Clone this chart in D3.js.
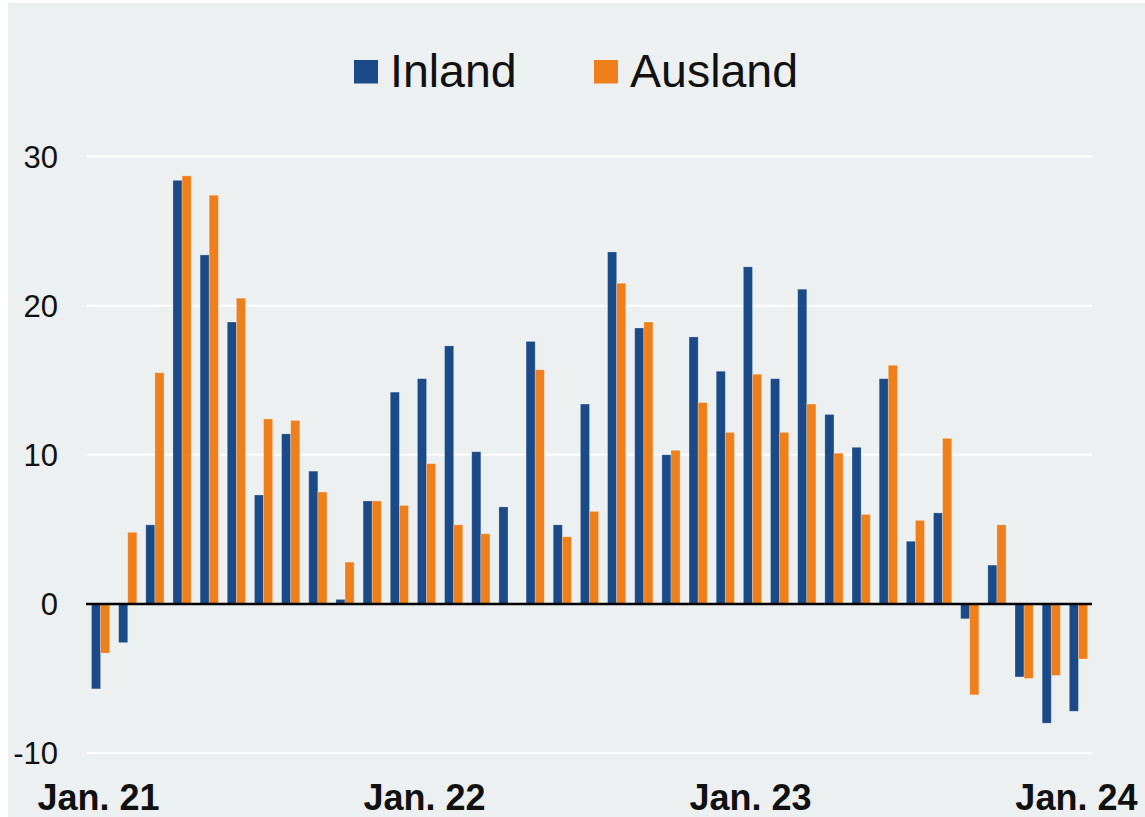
<!DOCTYPE html>
<html>
<head>
<meta charset="utf-8">
<script src="https://cdn.jsdelivr.net/npm/d3@7"></script>
<style>
  html, body { margin: 0; padding: 0; background: #fff; }
  svg { display: block; font-family: "Liberation Sans", Arial, sans-serif; }
</style>
</head>
<body>
<svg id="chart" width="1145" height="817"></svg>
<script>
// Monthly values, Jan 2021 .. Jan 2024
var months = [
  'Jan. 21', 'Feb. 21', 'Mrz. 21', 'Apr. 21', 'Mai 21', 'Jun. 21', 'Jul. 21', 'Aug. 21', 'Sep. 21', 'Okt. 21', 'Nov. 21', 'Dez. 21',
  'Jan. 22', 'Feb. 22', 'Mrz. 22', 'Apr. 22', 'Mai 22', 'Jun. 22', 'Jul. 22', 'Aug. 22', 'Sep. 22', 'Okt. 22', 'Nov. 22', 'Dez. 22',
  'Jan. 23', 'Feb. 23', 'Mrz. 23', 'Apr. 23', 'Mai 23', 'Jun. 23', 'Jul. 23', 'Aug. 23', 'Sep. 23', 'Okt. 23', 'Nov. 23', 'Dez. 23',
  'Jan. 24'
];

var inland = [
  -5.7, -2.6, 5.3, 28.4, 23.4, 18.9, 7.3, 11.4, 8.9, 0.3, 6.9, 14.2,
  15.1, 17.3, 10.2, 6.5, 17.6, 5.3, 13.4, 23.6, 18.5, 10.0, 17.9, 15.6,
  22.6, 15.1, 21.1, 12.7, 10.5, 15.1, 4.2, 6.1, -1.0, 2.6, -4.9, -8.0,
  -7.2
];

var ausland = [
  -3.3, 4.8, 15.5, 28.7, 27.4, 20.5, 12.4, 12.3, 7.5, 2.8, 6.9, 6.6,
  9.4, 5.3, 4.7, 0, 15.7, 4.5, 6.2, 21.5, 18.9, 10.3, 13.5, 11.5,
  15.4, 11.5, 13.4, 10.1, 6.0, 16.0, 5.6, 11.1, -6.1, 5.3, -5.0, -4.8,
  -3.7
];

var seriesNames = ['Inland', 'Ausland'];
var seriesColors = ['#1a4a87', '#ef7f1a'];
var yTicks = [-10, 0, 10, 20, 30];
var xLabels = ['Jan. 21', 'Jan. 22', 'Jan. 23', 'Jan. 24'];

var svg = d3.select('#chart');

svg.append('rect')
  .attr('x', 8).attr('y', 3)
  .attr('width', 1137).attr('height', 814)
  .attr('fill', '#ecf0f1');

var left = 87, right = 1092;

var x = d3.scaleBand()
  .domain(months)
  .range([left, right])
  .paddingInner(0.33)
  .paddingOuter(0.165);

var xSub = d3.scaleBand()
  .domain(seriesNames)
  .range([0, x.bandwidth()]);

var y = d3.scaleLinear()
  .domain([-10, 30])
  .range([753, 156.5]);

// gridlines + y labels
var yAxis = svg.append('g');
yAxis.selectAll('line.grid')
  .data(yTicks.filter(function (d) { return d !== 0; }))
  .enter().append('line')
  .attr('class', 'grid')
  .attr('x1', left).attr('x2', right)
  .attr('y1', y).attr('y2', y)
  .attr('stroke', '#fff')
  .attr('stroke-width', 2);

yAxis.selectAll('text')
  .data(yTicks)
  .enter().append('text')
  .attr('x', 58)
  .attr('y', function (d) { return y(d) + 11; })
  .attr('text-anchor', 'end')
  .attr('font-size', 31)
  .attr('fill', '#111')
  .text(function (d) { return d; });

// bars
var rows = months.map(function (m, i) {
  return { month: m, values: [inland[i], ausland[i]] };
});

var groups = svg.append('g').selectAll('g')
  .data(rows)
  .enter().append('g')
  .attr('transform', function (d) { return 'translate(' + x(d.month) + ',0)'; });

groups.selectAll('rect')
  .data(function (d) {
    return d.values.map(function (v, k) { return { name: seriesNames[k], value: v, k: k }; });
  })
  .enter().append('rect')
  .attr('x', function (d) { return xSub(d.name); })
  .attr('width', xSub.bandwidth())
  .attr('y', function (d) { return y(Math.max(0, d.value)); })
  .attr('height', function (d) { return Math.abs(y(d.value) - y(0)); })
  .attr('fill', function (d) { return seriesColors[d.k]; })
  .attr('stroke', 'rgba(255,255,255,0.3)')
  .attr('stroke-width', 0.8);

// zero line
svg.append('line')
  .attr('x1', left - 1).attr('x2', right)
  .attr('y1', y(0)).attr('y2', y(0))
  .attr('stroke', '#000')
  .attr('stroke-width', 2.5);

// x labels
svg.append('g').selectAll('text')
  .data(xLabels)
  .enter().append('text')
  .attr('x', function (d) { return x(d) + x.bandwidth() / 2 - 2; })
  .attr('y', 810)
  .attr('text-anchor', 'middle')
  .attr('font-size', 36)
  .attr('font-weight', 'bold')
  .attr('fill', '#111')
  .text(function (d) { return d; });

// legend
var legendX = [354, 594];
var legend = svg.append('g').selectAll('g')
  .data(seriesNames)
  .enter().append('g')
  .attr('transform', function (d, i) { return 'translate(' + legendX[i] + ',0)'; });

legend.append('rect')
  .attr('x', 0).attr('y', 60)
  .attr('width', 24).attr('height', 23.5)
  .attr('fill', function (d, i) { return seriesColors[i]; });

legend.append('text')
  .attr('x', 36).attr('y', 87)
  .attr('font-size', 46.5)
  .attr('fill', '#111')
  .text(function (d) { return d; });
</script>
</body>
</html>
